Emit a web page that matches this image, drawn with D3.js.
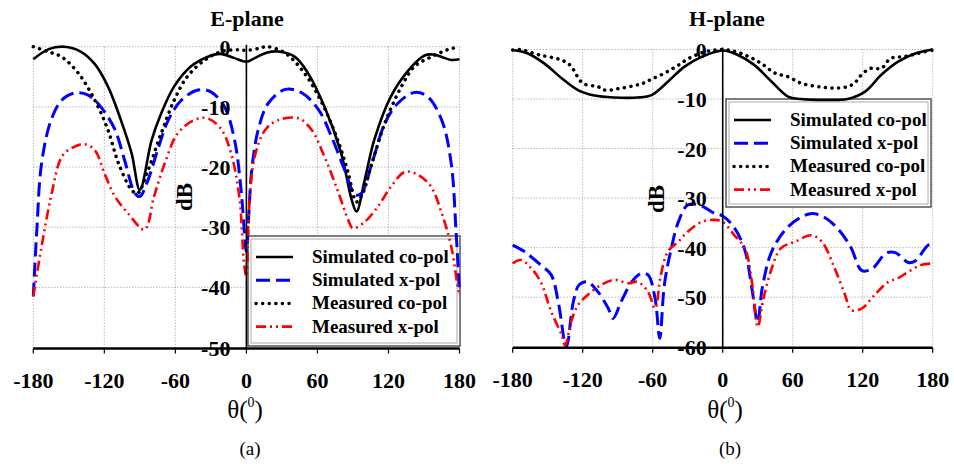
<!DOCTYPE html>
<html>
<head>
<meta charset="utf-8">
<script src="https://cdn.jsdelivr.net/npm/d3@7"></script>
<style>
  body { margin: 0; background: #fff; }
  svg text { font-family: "Liberation Serif", "Times New Roman", serif; }
</style>
</head>
<body>
<script>
// E-plane series, [theta, dB]
const eSimCo = [[-180,-2.1],[-167,-0.4],[-154,0],[-140,-0.8],[-128,-2.9],[-117,-6.6],[-106,-12.2],[-97,-17.7],[-90,-23.8],
  [-80,-15.5],[-72,-11.1],[-61,-6.6],[-47,-3.3],[-33,-1.7],[-22,-1.2],[-10,-1.9],[0,-2.5],[7,-1.9],[17,-1.0],[27,-0.8],
  [41,-1.7],[52,-4.4],[66,-10],[80,-17.7],[89,-25.5],[93,-27.4],[100,-22.1],[108,-15.5],[122,-8.3],[137,-3.9],[150,-1.5],
  [158,-1.3],[165,-1.7],[173,-2.2],[180,-2.1]];
const eSimX = [[-180,-41.5],[-177,-30.4],[-173,-19.4],[-165,-12.2],[-156,-8.9],[-145,-7.7],[-134,-8],[-123,-10],[-111,-13.8],
  [-103,-18.8],[-94,-24.4],[-90,-24.9],[-83,-22.1],[-75,-17.2],[-66,-12.2],[-55,-8.9],[-41,-7.2],[-30,-7.5],[-18.5,-10],
  [-10,-15.5],[-4.5,-23.8],[0,-34],[2,-28],[4.5,-20.5],[10,-13.8],[18.5,-9.4],[33,-7.1],[47,-7.7],[61,-10.5],[72,-15],
  [83,-20.5],[92,-24.6],[97,-24.4],[106,-19.4],[117,-12.7],[128,-9.4],[142,-7.6],[153,-8.3],[165,-12.2],[173,-19.4],
  [177,-30.4],[180,-41]];
const eMeasCo = [[-180,0],[-168,-0.8],[-156,-1.7],[-142,-4.4],[-128,-8.9],[-117,-13.8],[-108,-19.4],[-97,-23.8],[-92,-24.4],
  [-83,-20.5],[-72,-14.4],[-61,-8.9],[-50,-5],[-35,-2.2],[-21,-0.8],[-7,-0.5],[0,-0.6],[10,-0.3],[18,0],[33,-1.1],[49,-4.4],
  [64,-9.4],[78,-16],[86,-21],[93,-25.8],[98,-24.5],[106,-19.4],[117,-12.7],[131,-6.6],[142,-3.3],[156,-1.7],[170,-0.5],[180,0]];
const eMeasX = [[-180,-41.5],[-173,-33.2],[-165,-24.9],[-156,-18.3],[-148,-16.9],[-137,-16.2],[-128,-17.2],[-120,-21],
  [-111,-24.9],[-100,-27.7],[-86,-30.4],[-78,-24.9],[-69,-19.4],[-58,-14.4],[-44,-12.2],[-33,-11.9],[-21,-13.8],[-13,-17.7],
  [-6,-24.9],[-2,-36],[0,-38.2],[2,-27.7],[7,-18.3],[16,-13.8],[27,-12.2],[44,-11.9],[55,-13.8],[66,-18.3],[78,-24.4],
  [86,-28.8],[90,-30.2],[100,-29.1],[111,-26.6],[122,-23.3],[134,-20.8],[145,-21.3],[156,-23.3],[165,-27.7],[173,-33.2],
  [179,-40.4],[180,-41]];

// H-plane series
const hSimCo = [[-180,-0.1],[-167,-0.8],[-153,-2.8],[-138,-5.8],[-124,-8.2],[-110,-9.3],[-93,-9.7],[-73,-9.7],[-61,-9.2],
  [-47,-6.5],[-33,-3.5],[-18,-1.5],[0,-0.2],[13,-1.1],[27,-3.1],[42,-6.5],[56,-9.5],[67,-10],[90,-10.2],[107,-10],
  [122,-8.5],[136,-5.1],[150,-2.5],[165,-0.8],[180,0]];
const hSimX = [[-180,-39.5],[-170,-40.8],[-156,-43.5],[-147,-45.5],[-141,-50.9],[-134,-60],[-128,-50.9],[-123,-47.5],
  [-116,-46.9],[-107,-48.9],[-98,-52.3],[-94,-54.3],[-87,-50.9],[-78,-46.9],[-70,-45.2],[-64,-45.5],[-58,-50.2],[-54,-58.3],
  [-50,-47.5],[-44,-40.1],[-38,-34.8],[-30,-31.4],[-20,-31.4],[-7,-33.1],[0,-33.6],[10,-36],[19,-40.5],[25,-48.2],[30,-55],
  [34,-48],[42,-40.8],[56,-35.8],[74,-33.2],[85,-33.6],[98,-36],[110,-40],[119,-44.6],[128,-44.3],[140,-41.1],[148,-41],
  [159,-43],[165,-42.7],[176,-39.5],[180,-39.3]];
const hMeasCo = [[-180,-0.1],[-174,0],[-157,-1.1],[-140,-2],[-131,-3.1],[-120,-6.8],[-107,-7.5],[-101,-8.2],[-89,-7.9],
  [-76,-7.3],[-68,-6.8],[-61,-6],[-50,-4.8],[-39,-3.3],[-29,-1.8],[-17,-0.6],[-7,-0.1],[4.5,-0.1],[19,-1.1],[33,-2.8],
  [45,-4.8],[56,-5.5],[67,-6.8],[82,-7.5],[96,-7.8],[107,-7.5],[113,-6.8],[119,-5.1],[127,-3.8],[136,-3.8],[144,-1.8],
  [156,-1.4],[167,-0.8],[180,-0.1]];
const hMeasX = [[-180,-43.2],[-173,-42.5],[-164,-44.2],[-156,-46.9],[-147,-52.9],[-138,-57.6],[-135,-59.7],[-130,-55],
  [-124,-51.6],[-116,-49.6],[-104,-47.5],[-93,-46.5],[-81,-47.2],[-73,-46.9],[-64,-48.9],[-58,-52.3],[-53,-45.5],[-47,-40.8],
  [-38,-38.8],[-30,-36.8],[-18,-34.8],[-7,-34.4],[0,-34.8],[10,-37.5],[19,-40.1],[25,-46.9],[30,-56],[35,-50.2],[42,-44.2],
  [50,-40.1],[62,-38.8],[76,-37.5],[85,-38.8],[96,-44.2],[105,-49.6],[110,-52.6],[119,-52.3],[130,-49.6],[142,-46.9],
  [150,-46.2],[159,-44.9],[170,-43.5],[180,-43.2]];

const xTicks = [-180, -120, -60, 0, 60, 120, 180];
const eYTicks = [0, -10, -20, -30, -40, -50];
const hYTicks = [0, -10, -20, -30, -40, -50, -60];
const legendLabels = ["Simulated co-pol", "Simulated x-pol", "Measured co-pol", "Measured x-pol"];

const styles = [
  { color: "#000", width: 2.6, dash: null, cap: "butt" },
  { color: "#0000ff", width: 3, dash: "14,6", cap: "butt" },
  { color: "#000", width: 3.5, dash: "0.1,6.5", cap: "round" },
  { color: "#ff0000", width: 2.6, dash: "10,4,2,4,2,4", cap: "butt" }
];

const svg = d3.select("body").append("svg")
  .attr("width", 954).attr("height", 464);

function drawPanel(p) {
  const x = d3.scaleLinear().domain([-180, 180]).range(p.xr);
  const y = d3.scaleLinear().domain([0, p.yTicks[p.yTicks.length - 1]]).range(p.yr);
  const g = svg.append("g");
  const x0 = x(0);

  // grid
  g.selectAll(".vg").data(xTicks).join("line")
    .attr("x1", d => x(d)).attr("x2", d => x(d))
    .attr("y1", p.yr[0]).attr("y2", p.yr[1])
    .attr("stroke", "#999").attr("stroke-width", 1).attr("stroke-dasharray", "1,2");
  g.selectAll(".hg").data(p.yTicks.slice(0, -1)).join("line")
    .attr("x1", p.xr[0]).attr("x2", p.xr[1])
    .attr("y1", d => y(d)).attr("y2", d => y(d))
    .attr("stroke", "#999").attr("stroke-width", 1).attr("stroke-dasharray", "1,2");

  // legend (under the curves, like the original)
  const L = p.legend;
  g.append("rect").attr("x", L.x).attr("y", L.y).attr("width", L.w).attr("height", L.h)
    .attr("fill", "#fff").attr("stroke", "#555").attr("stroke-width", 1.5);
  g.append("rect").attr("x", L.x + 3).attr("y", L.y + 3).attr("width", L.w - 6).attr("height", L.h - 6)
    .attr("fill", "none").attr("stroke", "#aaa").attr("stroke-width", 1);
  legendLabels.forEach((lab, i) => {
    const st = styles[i];
    const yy = L.y + 21 + i * 23.2;
    g.append("line").attr("x1", L.x + 8).attr("x2", L.x + 45).attr("y1", yy).attr("y2", yy)
      .attr("stroke", st.color).attr("stroke-width", st.width)
      .attr("stroke-dasharray", st.dash).attr("stroke-linecap", st.cap);
    g.append("text").attr("x", L.x + 64).attr("y", yy + 6)
      .attr("font-size", 19).attr("font-weight", "bold").text(lab);
  });

  // curves
  const line = d3.line().x(d => x(d[0])).y(d => y(d[1])).curve(d3.curveCatmullRom.alpha(0.5));
  p.series.forEach((s, i) => {
    const st = styles[i];
    g.append("path").attr("d", line(s))
      .attr("fill", "none").attr("stroke", st.color).attr("stroke-width", st.width)
      .attr("stroke-dasharray", st.dash).attr("stroke-linecap", st.cap).attr("stroke-linejoin", "round");
  });

  // axes
  g.append("line").attr("x1", x0).attr("x2", x0).attr("y1", p.yr[0] - 2).attr("y2", p.yr[1] + 1)
    .attr("stroke", "#000").attr("stroke-width", 1.6);
  g.append("line").attr("x1", p.xr[0]).attr("x2", p.xr[1]).attr("y1", p.yr[1] + 1).attr("y2", p.yr[1] + 1)
    .attr("stroke", "#000").attr("stroke-width", 2.6);
  g.selectAll(".xt").data(xTicks).join("line")
    .attr("x1", d => x(d)).attr("x2", d => x(d))
    .attr("y1", p.yr[1] + 1).attr("y2", p.yr[1] + 6)
    .attr("stroke", "#000").attr("stroke-width", 1.2);

  g.selectAll(".xl").data(xTicks).join("text")
    .attr("x", d => x(d)).attr("y", p.yr[1] + 40)
    .attr("text-anchor", "middle").attr("font-size", 22).attr("font-weight", "bold")
    .text(d => d);
  g.selectAll(".yl").data(p.yTicks).join("text")
    .attr("x", x0 - 16).attr("y", d => y(d) + 8)
    .attr("text-anchor", "end").attr("font-size", 22).attr("font-weight", "bold")
    .text(d => d);

  g.append("text").attr("transform", `translate(${p.dbX},${p.dbY}) rotate(-90)`)
    .attr("text-anchor", "middle").attr("font-size", 23).attr("font-weight", "bold").text("dB");

  g.append("text").attr("x", p.titleX).attr("y", 26)
    .attr("text-anchor", "middle").attr("font-size", 22).attr("font-weight", "bold").text(p.title);

  const th = g.append("text").attr("x", p.titleX - 2).attr("y", 418)
    .attr("text-anchor", "middle").attr("font-size", 25);
  th.append("tspan").text("θ(");
  th.append("tspan").attr("font-size", 14).attr("dy", -11).text("0");
  th.append("tspan").attr("dy", 11).text(")");

  g.append("text").attr("x", p.titleX + 3).attr("y", 455)
    .attr("text-anchor", "middle").attr("font-size", 19).text(p.caption);
}

drawPanel({
  xr: [33.3, 459.5], yr: [46.7, 347.5], yTicks: eYTicks,
  series: [eSimCo, eSimX, eMeasCo, eMeasX],
  title: "E-plane", titleX: 247, caption: "(a)", dbX: 192, dbY: 197,
  legend: { x: 248, y: 236, w: 212, h: 110 }
});
drawPanel({
  xr: [512.7, 932.7], yr: [49.5, 346.7], yTicks: hYTicks,
  series: [hSimCo, hSimX, hMeasCo, hMeasX],
  title: "H-plane", titleX: 727, caption: "(b)", dbX: 664, dbY: 199,
  legend: { x: 726, y: 99, w: 205, h: 108 }
});
</script>
</body>
</html>
